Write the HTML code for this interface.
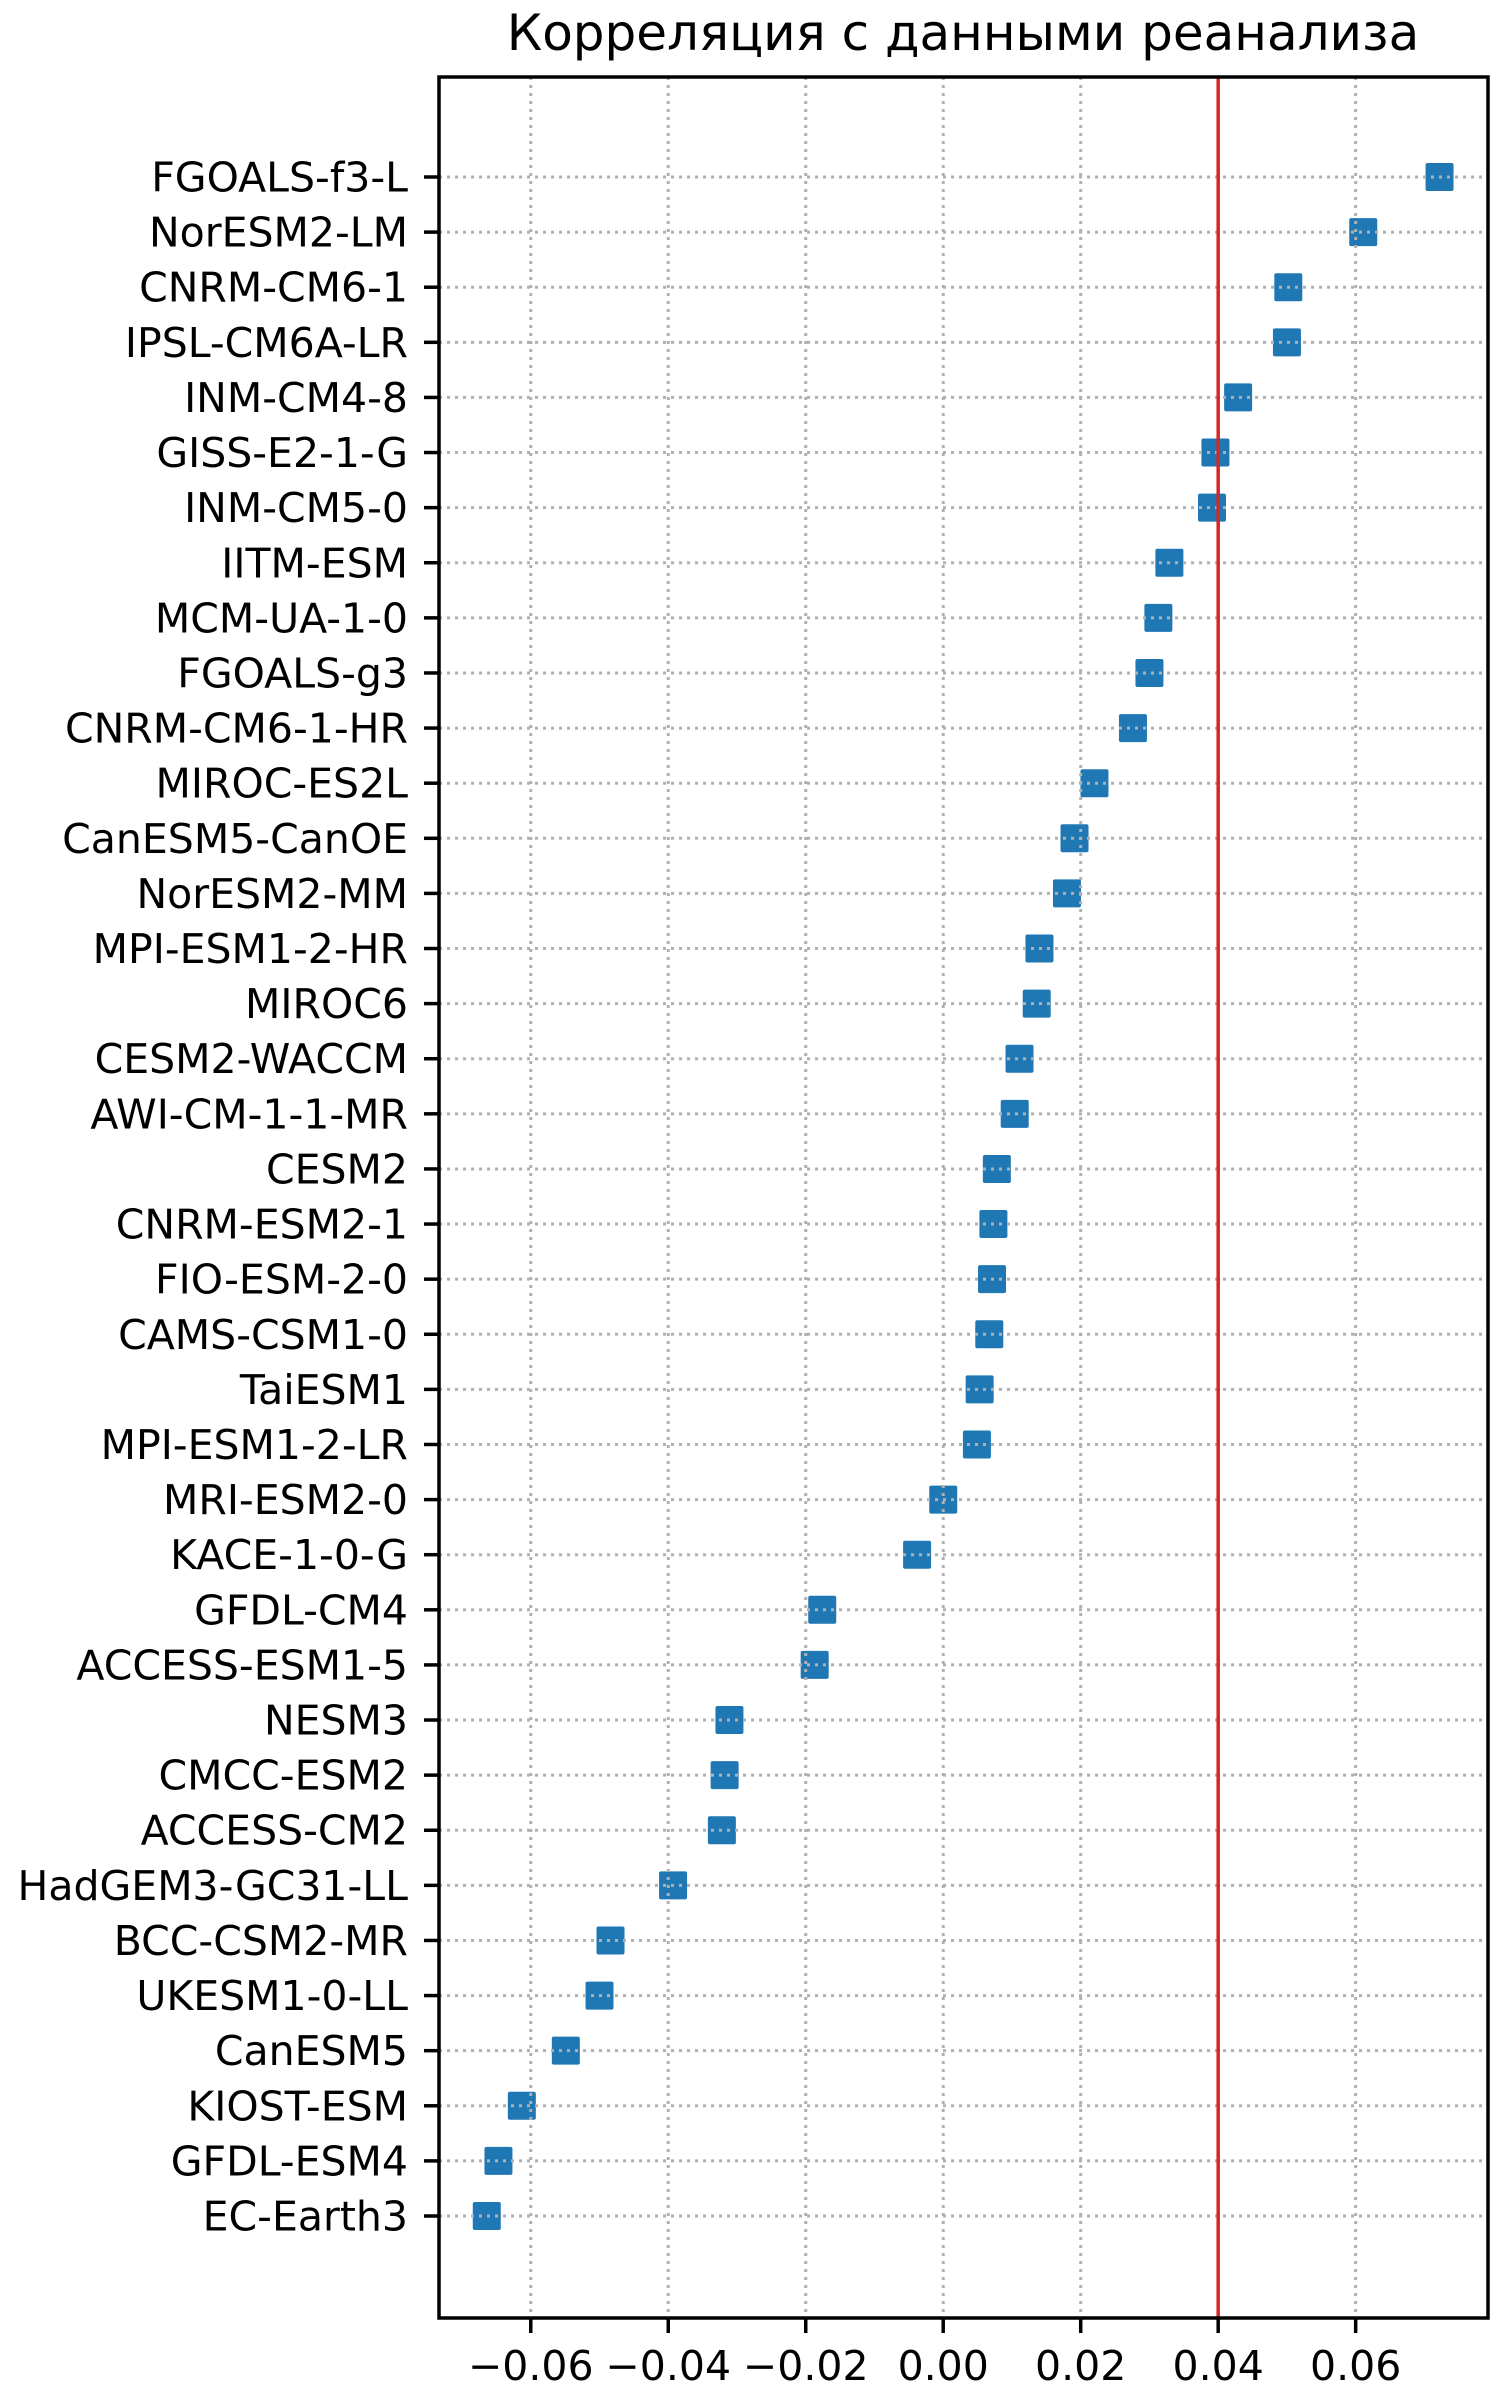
<!DOCTYPE html>
<html><head><meta charset="utf-8"><style>
html,body{margin:0;padding:0;background:#fff;}
svg{display:block;font-family:"DejaVu Sans","Liberation Sans",sans-serif;}
</style></head><body>
<svg id="chart" width="1500" height="2400" viewBox="0 0 1500 2400" xmlns="http://www.w3.org/2000/svg">
<rect x="0" y="0" width="1500" height="2400" fill="#fff"/>
<text x="963" y="50" font-size="50" text-anchor="middle">Корреляция с данными реанализа</text>
<g id="grid"></g>
<g id="marks"></g>
<g id="axes"></g>
</svg>
<script>
const models = ["FGOALS-f3-L","NorESM2-LM","CNRM-CM6-1","IPSL-CM6A-LR","INM-CM4-8","GISS-E2-1-G","INM-CM5-0","IITM-ESM","MCM-UA-1-0","FGOALS-g3","CNRM-CM6-1-HR","MIROC-ES2L","CanESM5-CanOE","NorESM2-MM","MPI-ESM1-2-HR","MIROC6","CESM2-WACCM","AWI-CM-1-1-MR","CESM2","CNRM-ESM2-1","FIO-ESM-2-0","CAMS-CSM1-0","TaiESM1","MPI-ESM1-2-LR","MRI-ESM2-0","KACE-1-0-G","GFDL-CM4","ACCESS-ESM1-5","NESM3","CMCC-ESM2","ACCESS-CM2","HadGEM3-GC31-LL","BCC-CSM2-MR","UKESM1-0-LL","CanESM5","KIOST-ESM","GFDL-ESM4","EC-Earth3"];
const correlations = [0.0722,0.0611,0.0502,0.0500,0.0429,0.0396,0.0391,0.0329,0.0313,0.0300,0.0276,0.0220,0.0191,0.0180,0.0140,0.0136,0.0111,0.0104,0.0078,0.0073,0.0071,0.0067,0.0053,0.0049,0.0000,-0.0038,-0.0176,-0.0187,-0.0311,-0.0318,-0.0322,-0.0393,-0.0484,-0.0500,-0.0549,-0.0613,-0.0647,-0.0664];
const xTicks = [-0.06,-0.04,-0.02,0.00,0.02,0.04,0.06];
const xTickLabels = ["−0.06","−0.04","−0.02","0.00","0.02","0.04","0.06"];
const threshold = [0.04];

const L=439,R=1488,T=77,B=2318;
const xMin=-0.07335, xMax=0.07925;
function xs(v){return L+(v-xMin)/(xMax-xMin)*(R-L);}
const y0=177, y1=2216;
function ys(i){return y0+i*(y1-y0)/(models.length-1);}
const NS="http://www.w3.org/2000/svg";
function mk(tag,attrs,parent){const e=document.createElementNS(NS,tag);for(const k in attrs)e.setAttribute(k,attrs[k]);parent.appendChild(e);return e;}
const grid=document.getElementById('grid'),marks=document.getElementById('marks'),axes=document.getElementById('axes');

models.forEach((m,i)=>{
  const r=mk('rect',{x:xs(correlations[i])-14,y:ys(i)-14,width:28,height:28,rx:2,fill:'#1f77b4'},marks);
  
  
});
xTicks.forEach((t,i)=>{
  const g=mk('line',{x1:xs(t),x2:xs(t),y1:T,y2:B,stroke:'#b0b0b0','stroke-width':3,'stroke-dasharray':'3,5'},marks);
  
  
});
models.forEach((m,i)=>{
  const g=mk('line',{x1:L,x2:R,y1:ys(i),y2:ys(i),stroke:'#b0b0b0','stroke-width':3,'stroke-dasharray':'3,5'},marks);
  
  
});
threshold.forEach(v=>{
  const l=mk('line',{x1:xs(v),x2:xs(v),y1:T,y2:B,stroke:'#d62728','stroke-width':3.5},marks);
  
  
});
const fr=mk('rect',{x:L,y:T,width:R-L,height:B-T,fill:'none',stroke:'#000','stroke-width':3.5},axes);


models.forEach((m,i)=>{
  const tk=mk('line',{x1:L-15,x2:L,y1:ys(i),y2:ys(i),stroke:'#000','stroke-width':3.5},axes);
  
  
  const tx=mk('text',{x:408,y:ys(i)+14.5,'font-size':41,'text-anchor':'end'},axes);
  tx.textContent=m;
  
  
});
xTicks.forEach((t,i)=>{
  const tk=mk('line',{x1:xs(t),x2:xs(t),y1:B,y2:B+15,stroke:'#000','stroke-width':3.5},axes);
  
  
  const tx=mk('text',{x:xs(t),y:B+62,'font-size':41,'text-anchor':'middle'},axes);
  tx.textContent=xTickLabels[i];
  
  
});
</script>
</body></html>
